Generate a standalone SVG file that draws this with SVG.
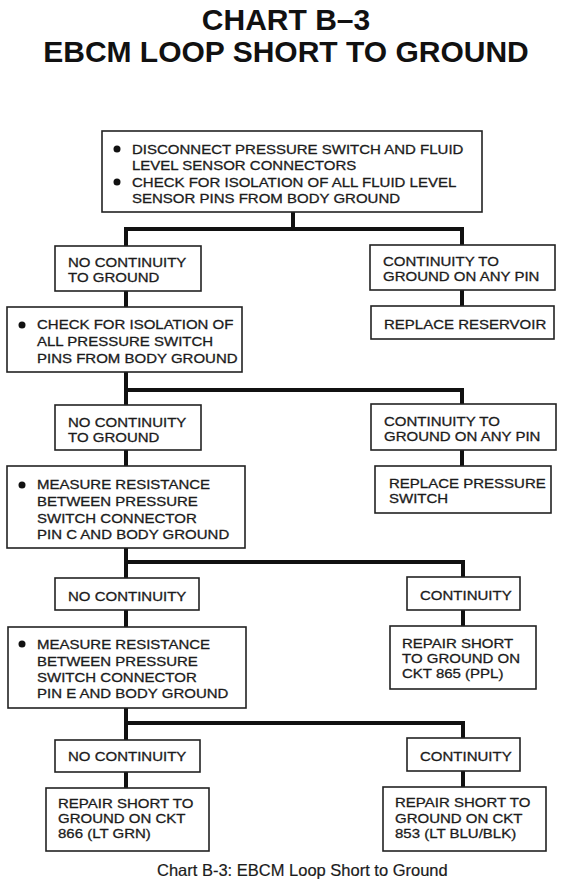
<svg xmlns="http://www.w3.org/2000/svg" width="563" height="884" viewBox="0 0 563 884">
<style>
.title{font-family:"Liberation Sans",Arial,sans-serif;font-weight:bold;font-size:30px;fill:#111;text-anchor:middle}
.t{font-family:"Liberation Sans",Arial,sans-serif;font-size:13.4px;fill:#1b1b1b;stroke:#1b1b1b;stroke-width:0.3}
.cap{font-family:"Liberation Sans",Arial,sans-serif;font-size:16.5px;fill:#1b1b1b;stroke:#1b1b1b;stroke-width:0.2}
.box{fill:#fff;stroke:#222;stroke-width:1.6}
.conn{fill:none;stroke:#111;stroke-width:4;stroke-linejoin:miter}
.dot{fill:#111}
</style>
<rect width="563" height="884" fill="#fff"/>
<g id="title">
<text class="title" x="286" y="30">CHART B–3</text>
<text class="title" x="286" y="62">EBCM LOOP SHORT TO GROUND</text>
</g>
<g id="connectors">
<path class="conn" d="M293,212 V229"/>
<path class="conn" d="M126,246 V229 H462 V245"/>
<path class="conn" d="M126,291 V307"/>
<path class="conn" d="M462,290 V306"/>
<path class="conn" d="M126,372 V405"/>
<path class="conn" d="M126,390 H462 V404"/>
<path class="conn" d="M126,450 V466"/>
<path class="conn" d="M462,450 V466"/>
<path class="conn" d="M126,548 V578"/>
<path class="conn" d="M126,562 H463 V577"/>
<path class="conn" d="M126,610 V627"/>
<path class="conn" d="M463,610 V626"/>
<path class="conn" d="M126,708 V740"/>
<path class="conn" d="M126,723 H463 V738"/>
<path class="conn" d="M126,772 V788"/>
<path class="conn" d="M463,771 V787"/>
</g>
<g id="start">
<rect class="box" x="102" y="131" width="380" height="81"/>
<circle class="dot" cx="117" cy="149" r="3.5"/>
<circle class="dot" cx="117" cy="182" r="3.5"/>
<text class="t" transform="translate(132,154) scale(1.12,1)">DISCONNECT PRESSURE SWITCH AND FLUID</text>
<text class="t" transform="translate(132,170) scale(1.12,1)">LEVEL SENSOR CONNECTORS</text>
<text class="t" transform="translate(132,187) scale(1.12,1)">CHECK FOR ISOLATION OF ALL FLUID LEVEL</text>
<text class="t" transform="translate(132,203) scale(1.12,1)">SENSOR PINS FROM BODY GROUND</text>
</g>
<g id="no-cont-1">
<rect class="box" x="55" y="246" width="146" height="45"/>
<text class="t" transform="translate(68,267) scale(1.12,1)">NO CONTINUITY</text>
<text class="t" transform="translate(68,282) scale(1.12,1)">TO GROUND</text>
</g>
<g id="cont-1">
<rect class="box" x="370" y="245" width="185" height="45"/>
<text class="t" transform="translate(383,266) scale(1.12,1)">CONTINUITY TO</text>
<text class="t" transform="translate(383,281) scale(1.12,1)">GROUND ON ANY PIN</text>
</g>
<g id="replace-reservoir">
<rect class="box" x="371" y="306" width="183" height="33"/>
<text class="t" transform="translate(384,329) scale(1.12,1)">REPLACE RESERVOIR</text>
</g>
<g id="check-pressure">
<rect class="box" x="7" y="307" width="235" height="65"/>
<circle class="dot" cx="22" cy="325" r="3.5"/>
<text class="t" transform="translate(37,329) scale(1.12,1)">CHECK FOR ISOLATION OF</text>
<text class="t" transform="translate(37,346) scale(1.12,1)">ALL PRESSURE SWITCH</text>
<text class="t" transform="translate(37,363) scale(1.12,1)">PINS FROM BODY GROUND</text>
</g>
<g id="no-cont-2">
<rect class="box" x="55" y="405" width="146" height="45"/>
<text class="t" transform="translate(68,427) scale(1.12,1)">NO CONTINUITY</text>
<text class="t" transform="translate(68,442) scale(1.12,1)">TO GROUND</text>
</g>
<g id="cont-2">
<rect class="box" x="371" y="404" width="185" height="46"/>
<text class="t" transform="translate(384,426) scale(1.12,1)">CONTINUITY TO</text>
<text class="t" transform="translate(384,441) scale(1.12,1)">GROUND ON ANY PIN</text>
</g>
<g id="replace-switch">
<rect class="box" x="375" y="466" width="176" height="47"/>
<text class="t" transform="translate(389,488) scale(1.12,1)">REPLACE PRESSURE</text>
<text class="t" transform="translate(389,503) scale(1.12,1)">SWITCH</text>
</g>
<g id="measure-c">
<rect class="box" x="7" y="466" width="238" height="82"/>
<circle class="dot" cx="22" cy="485" r="3.5"/>
<text class="t" transform="translate(37,489) scale(1.12,1)">MEASURE RESISTANCE</text>
<text class="t" transform="translate(37,506) scale(1.12,1)">BETWEEN PRESSURE</text>
<text class="t" transform="translate(37,523) scale(1.12,1)">SWITCH CONNECTOR</text>
<text class="t" transform="translate(37,539) scale(1.12,1)">PIN C AND BODY GROUND</text>
</g>
<g id="no-cont-3">
<rect class="box" x="55" y="578" width="144" height="32"/>
<text class="t" transform="translate(68,601) scale(1.12,1)">NO CONTINUITY</text>
</g>
<g id="cont-3">
<rect class="box" x="407" y="577" width="113" height="33"/>
<text class="t" transform="translate(420,600) scale(1.12,1)">CONTINUITY</text>
</g>
<g id="measure-e">
<rect class="box" x="8" y="627" width="238" height="81"/>
<circle class="dot" cx="22" cy="644" r="3.5"/>
<text class="t" transform="translate(37,649) scale(1.12,1)">MEASURE RESISTANCE</text>
<text class="t" transform="translate(37,666) scale(1.12,1)">BETWEEN PRESSURE</text>
<text class="t" transform="translate(37,682) scale(1.12,1)">SWITCH CONNECTOR</text>
<text class="t" transform="translate(37,698) scale(1.12,1)">PIN E AND BODY GROUND</text>
</g>
<g id="repair-865">
<rect class="box" x="390" y="626" width="146" height="63"/>
<text class="t" transform="translate(402,648) scale(1.12,1)">REPAIR SHORT</text>
<text class="t" transform="translate(402,663) scale(1.12,1)">TO GROUND ON</text>
<text class="t" transform="translate(402,678) scale(1.12,1)">CKT 865 (PPL)</text>
</g>
<g id="no-cont-4">
<rect class="box" x="55" y="740" width="145" height="32"/>
<text class="t" transform="translate(68,761) scale(1.12,1)">NO CONTINUITY</text>
</g>
<g id="cont-4">
<rect class="box" x="407" y="738" width="113" height="33"/>
<text class="t" transform="translate(420,761) scale(1.12,1)">CONTINUITY</text>
</g>
<g id="repair-866">
<rect class="box" x="46" y="788" width="163" height="63"/>
<text class="t" transform="translate(58,808) scale(1.12,1)">REPAIR SHORT TO</text>
<text class="t" transform="translate(58,823) scale(1.12,1)">GROUND ON CKT</text>
<text class="t" transform="translate(58,838) scale(1.12,1)">866 (LT GRN)</text>
</g>
<g id="repair-853">
<rect class="box" x="383" y="787" width="163" height="64"/>
<text class="t" transform="translate(395,807) scale(1.12,1)">REPAIR SHORT TO</text>
<text class="t" transform="translate(395,823) scale(1.12,1)">GROUND ON CKT</text>
<text class="t" transform="translate(395,838) scale(1.12,1)">853 (LT BLU/BLK)</text>
</g>
<g id="caption">
<text class="cap" x="157" y="876">Chart B-3:  EBCM Loop Short to Ground</text>
</g>
</svg>
